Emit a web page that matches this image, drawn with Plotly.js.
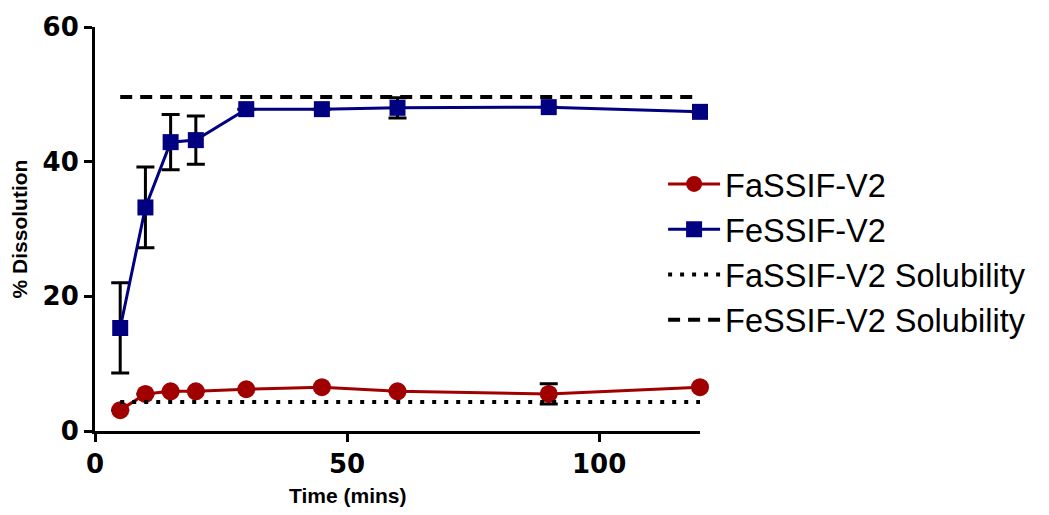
<!DOCTYPE html>
<html>
<head>
<meta charset="utf-8">
<script src="https://cdn.plot.ly/plotly-3.0.1.min.js"></script>
<style>html,body{margin:0;padding:0;background:#fff;}#chart{width:1049px;height:515px;}</style>
</head>
<body>
<div id="chart"></div>
<script>
// Data
const timeMins = [5, 10, 15, 20, 30, 45, 60, 90, 120];
const fassifMean = [3.1, 5.5, 5.9, 5.9, 6.2, 6.5, 5.9, 5.5, 6.5];
const fassifErr = [0, 0, 0, 0, 0, 0, 0, 1.5, 0];
const fessifMean = [15.3, 33.2, 42.9, 43.2, 47.8, 47.8, 48.0, 48.1, 47.4];
const fessifErr = [6.7, 6.0, 4.1, 3.6, 0, 0, 1.5, 0, 0];
const solubilityX = [5, 120];
const fassifSolubility = [4.3, 4.3];
const fessifSolubility = [49.6, 49.6];
const xTicks = [0, 50, 100];
const yTicks = [0, 20, 40, 60];

const red = '#A00000';
const blue = '#000080';

const traces = [
  {
    x: timeMins, y: fassifMean, name: 'FaSSIF-V2', type: 'scatter', mode: 'lines+markers',
    line: {color: red, width: 3},
    marker: {symbol: 'circle', size: 18, color: red},
    error_y: {type: 'data', array: fassifErr, visible: true, color: '#000', thickness: 3, width: 9},
    cliponaxis: false, legendgroup: 'a'
  },
  {
    x: timeMins, y: fessifMean, name: 'FeSSIF-V2', type: 'scatter', mode: 'lines+markers',
    line: {color: blue, width: 3},
    marker: {symbol: 'square', size: 16, color: blue},
    error_y: {type: 'data', array: fessifErr, visible: true, color: '#000', thickness: 3, width: 9},
    cliponaxis: false, legendgroup: 'b'
  },
  {
    x: solubilityX, y: fassifSolubility, name: 'FaSSIF-V2 Solubility', type: 'scatter', mode: 'lines',
    line: {color: '#000', width: 4, dash: '4px,8px'}, cliponaxis: false, legendgroup: 'c'
  },
  {
    x: solubilityX, y: fessifSolubility, name: 'FeSSIF-V2 Solubility', type: 'scatter', mode: 'lines',
    line: {color: '#000', width: 4, dash: '12px,8px'}, cliponaxis: false, legendgroup: 'd'
  }
];

const tickFont = {family: 'DejaVu Sans', size: 26, color: '#000', weight: 'bold'};
const titleFont = {family: 'Liberation Sans, Arial', size: 21, color: '#000', weight: 'bold'};

const layout = {
  width: 1049, height: 515,
  margin: {l: 95, r: 349, t: 27, b: 84},
  paper_bgcolor: '#fff', plot_bgcolor: '#fff',
  showlegend: true,
  legend: {
    x: 0.939, xanchor: 'left', y: 0.68, yanchor: 'top',
    font: {family: 'Liberation Sans, Arial', size: 32.5, color: '#000'},
    tracegroupgap: 0, itemwidth: 52, bgcolor: 'rgba(0,0,0,0)'
  },
  xaxis: {
    range: [0, 120], tickvals: xTicks, ticktext: xTicks.map(String),
    showline: true, linecolor: '#000', linewidth: 3,
    ticks: 'outside', ticklen: 8, tickwidth: 3, tickcolor: '#000',
    showgrid: false, zeroline: false, tickfont: tickFont, fixedrange: true
  },
  yaxis: {
    range: [0, 60], tickvals: yTicks, ticktext: yTicks.map(String),
    showline: true, linecolor: '#000', linewidth: 3,
    ticks: 'outside', ticklen: 8, tickwidth: 3, tickcolor: '#000',
    showgrid: false, zeroline: false, tickfont: tickFont, fixedrange: true,
    title: {text: '% Dissolution', font: titleFont, standoff: 10}
  },
  annotations: [
    {text: 'Time (mins)', xref: 'x', x: 50, yref: 'paper', y: -0.127, yanchor: 'top', showarrow: false,
     font: titleFont}
  ]
};

Plotly.newPlot('chart', traces, layout, {displayModeBar: false, staticPlot: true});
</script>
</body>
</html>
